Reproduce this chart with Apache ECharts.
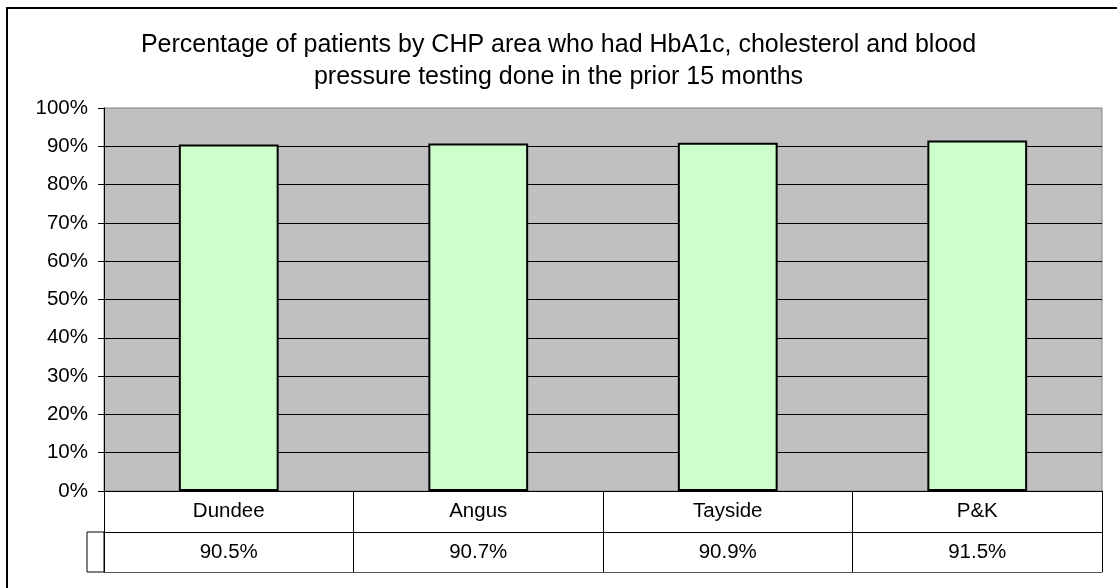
<!DOCTYPE html>
<html lang="en">
<head>
    <meta charset="UTF-8">
    <title>CHP area testing</title>
    <script src="https://cdn.jsdelivr.net/npm/echarts@6/dist/echarts.min.js"></script>
    <style>
        body { margin: 0; background: #fff; }
        #pic1 { width: 1117px; height: 588px; }
    </style>
</head>
<body>
    <div id="pic1"></div>
    <script>
        // data
        var areas = ['Dundee', 'Angus', 'Tayside', 'P&K'];
        var pctDone = [90.5, 90.7, 90.9, 91.5];
        var tableLabels = ['90.5%', '90.7%', '90.9%', '91.5%'];
        var yTicks = [0, 10, 20, 30, 40, 50, 60, 70, 80, 90, 100];

        var font = 'Liberation Sans, Arial, sans-serif';
        var myChart = echarts.init(document.getElementById('pic1'));

        var option = {
            backgroundColor: '#fff',
            animation: false,
            title: {
                text: 'Percentage of patients by CHP area who had HbA1c, cholesterol and blood\npressure testing done in the prior 15 months',
                left: 'center',
                top: 24,
                textStyle: { fontFamily: font, fontSize: 25, fontWeight: 'normal', color: '#000', lineHeight: 32, align: 'center' }
            },
            grid: {
                left: 104, top: 108, right: 15, bottom: 97,
                show: true, backgroundColor: '#C0C0C0', borderColor: '#808080', borderWidth: 1
            },
            xAxis: [
                {
                    type: 'category', data: areas, position: 'bottom',
                    axisLine: { lineStyle: { color: '#000', width: 1 } },
                    axisTick: { show: true, length: 81, lineStyle: { color: '#000' } },
                    axisLabel: { margin: 10, color: '#000', fontFamily: font, fontSize: 20.5 }
                },
                {
                    type: 'category', data: tableLabels, position: 'bottom', offset: 41,
                    axisLine: { lineStyle: { color: '#000', width: 1 } },
                    axisTick: { show: false },
                    axisLabel: { margin: 10, color: '#000', fontFamily: font, fontSize: 20.5 }
                },
                {
                    type: 'category', data: areas, position: 'bottom', offset: 81,
                    axisLine: { lineStyle: { color: '#555', width: 1 } },
                    axisTick: { show: false },
                    axisLabel: { show: false }
                }
            ],
            yAxis: {
                type: 'value', min: yTicks[0], max: yTicks[yTicks.length - 1], interval: 10,
                axisLine: { show: true, lineStyle: { color: '#000' } },
                axisTick: { show: true, length: 6, lineStyle: { color: '#000' } },
                axisLabel: { formatter: '{value}%', margin: 16, color: '#000', fontFamily: font, fontSize: 20.5 },
                splitLine: { showMaxLine: false, lineStyle: { color: '#000', width: 1 } }
            },
            series: [{
                type: 'bar',
                data: pctDone,
                barWidth: '40%',
                itemStyle: { color: '#CCFFCC', borderColor: '#000', borderWidth: 2 }
            }],
            graphic: [
                // outer chart border
                { type: 'rect', shape: { x: 7, y: 8, width: 1130, height: 600 },
                  style: { fill: 'none', stroke: '#000', lineWidth: 2 } },
                // legend key cell of the data table
                { type: 'rect', shape: { x: 87, y: 532, width: 17, height: 40 },
                  style: { fill: 'none', stroke: '#000', lineWidth: 1 } }
            ]
        };

        myChart.setOption(option);
    </script>
</body>
</html>
